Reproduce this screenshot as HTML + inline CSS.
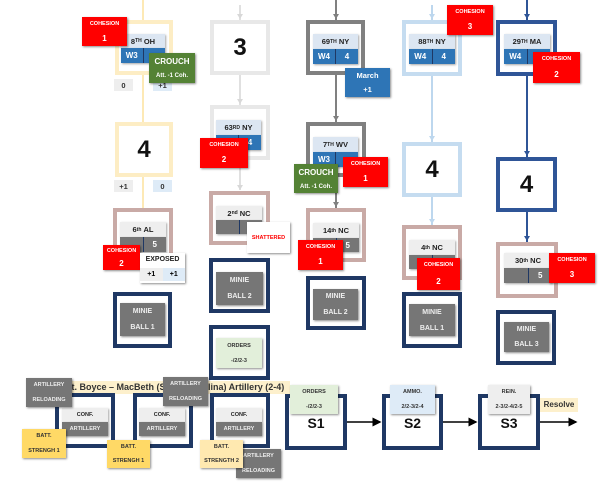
<!DOCTYPE html>
<html><head><meta charset="utf-8"><style>
body{margin:0;width:610px;height:491px;background:#fff;position:relative;overflow:hidden;font-family:"Liberation Sans",sans-serif;font-weight:bold}
div{position:absolute;box-sizing:border-box}
.f{border:4px solid #1f3864;background:#fff}
.ln{background:#999;width:2px}
.c{box-shadow:1px 1px 2px rgba(0,0,0,.45);text-align:center;display:flex;flex-direction:column;justify-content:space-around;align-items:center}
.red{background:#f00;color:#fff;font-size:5.5px}
.red b{font-size:8px}
.grn{background:#548235;color:#fff;font-size:8px}
.grn i{font-style:normal;font-size:6px}
.big{display:flex;align-items:center;justify-content:center;font-size:24px;color:#111}
.hd{font-size:7.5px;color:#222;display:flex;align-items:center;justify-content:center;box-shadow:1px 1px 2px rgba(0,0,0,.35)}
.rw{display:flex;box-shadow:1px 1px 2px rgba(0,0,0,.35)}
.rw span{flex:1;display:flex;align-items:center;justify-content:center;color:#fff;font-size:8px}
.rw span+span{border-left:1px solid #1f3864}
.gy{background:#767676;color:#eee;font-size:7px}
.sm{font-size:7.5px;display:flex;align-items:center;justify-content:center;color:#333}
.s{font-size:14px;color:#111;text-align:center}
</style></head><body>

<!-- column 1 -->
<div class="ln" style="left:142px;top:0;height:208px;background:#fde9b5"></div>
<div class="f" style="left:115px;top:20px;width:58px;height:55px;border-color:#fdedc4"></div>
<div class="hd" style="left:121px;top:34px;width:44px;height:14px;background:#dce6f2">8<sup style="font-size:5px">TH</sup>&nbsp;OH</div>
<div class="rw" style="left:121px;top:48px;width:44px;height:15px;background:#2e75b6"><span>W3</span><span></span></div>
<div class="c red" style="left:82px;top:17px;width:45px;height:29px">COHESION<b>1</b></div>
<div class="sm" style="left:114px;top:79px;width:19px;height:12px;background:#eee">0</div>
<div class="sm" style="left:153px;top:79px;width:19px;height:12px;background:#deebf7">+1</div>
<div class="c grn" style="left:149px;top:53px;width:46px;height:30px">CROUCH<i>Att. -1 Coh.</i></div>
<div class="f big" style="left:115px;top:122px;width:58px;height:55px;border-color:#fdedc4">4</div>
<div class="sm" style="left:114px;top:180px;width:19px;height:12px;background:#eee">+1</div>
<div class="sm" style="left:153px;top:180px;width:19px;height:12px;background:#deebf7">0</div>
<div class="f" style="left:113px;top:208px;width:60px;height:60px;border-color:#c9aaa6"></div>
<div class="hd" style="left:120px;top:222px;width:46px;height:15px;background:#eee">6<sup style="font-size:5px">th</sup>&nbsp;AL</div>
<div class="rw" style="left:120px;top:237px;width:46px;height:15px;background:#767676"><span></span><span>5</span></div>
<div class="c red" style="left:103px;top:245px;width:37px;height:25px">COHESION<b>2</b></div>
<div class="c" style="left:140px;top:253px;width:45px;height:30px;background:#fff"><div style="position:static;font-size:7px;color:#222">EXPOSED</div><div style="position:static;display:flex;width:100%;font-size:7px;height:13px"><span style="flex:1;background:#eee;display:flex;align-items:center;justify-content:center">+1</span><span style="flex:1;background:#deebf7;display:flex;align-items:center;justify-content:center">+1</span></div></div>
<div class="f" style="left:113px;top:292px;width:59px;height:56px"></div>
<div class="c gy" style="left:120px;top:303px;width:45px;height:33px">MINIE<span>BALL 1</span></div>

<!-- column 2 -->
<div class="ln" style="left:239px;top:5px;height:185px;background:#e0e0e0"></div>
<div class="f big" style="left:210px;top:20px;width:60px;height:55px;border-color:#e8e8e8">3</div>
<div class="f" style="left:210px;top:105px;width:60px;height:55px;border-color:#e8e8e8"></div>
<div class="hd" style="left:216px;top:120px;width:45px;height:15px;background:#dce6f2">63<sup style="font-size:5px">RD</sup>&nbsp;NY</div>
<div class="rw" style="left:216px;top:135px;width:45px;height:15px;background:#2e75b6"><span></span><span>4</span></div>
<div class="c red" style="left:200px;top:138px;width:48px;height:30px">COHESION<b>2</b></div>
<div class="f" style="left:209px;top:191px;width:61px;height:54px;border-color:#c9aaa6"></div>
<div class="hd" style="left:216px;top:206px;width:46px;height:14px;background:#eee">2<sup style="font-size:5px">nd</sup>&nbsp;NC</div>
<div class="rw" style="left:216px;top:220px;width:46px;height:14px;background:#767676"><span></span><span></span></div>
<div class="c" style="left:247px;top:222px;width:43px;height:31px;background:#fff;color:#f00;font-size:5.5px;justify-content:center">SHATTERED</div>
<div class="f" style="left:209px;top:258px;width:61px;height:55px"></div>
<div class="c gy" style="left:216px;top:272px;width:47px;height:33px">MINIE<span>BALL 2</span></div>
<div class="f" style="left:209px;top:325px;width:61px;height:55px"></div>
<div class="c" style="left:216px;top:338px;width:46px;height:30px;background:#e2efda;font-size:5.5px;color:#333">ORDERS<span>-/2/2-3</span></div>

<!-- column 3 -->
<div class="ln" style="left:335px;top:0;height:208px;background:#808080"></div>
<div class="f" style="left:306px;top:20px;width:59px;height:55px;border-color:#808080"></div>
<div class="hd" style="left:313px;top:34px;width:45px;height:15px;background:#dce6f2">69<sup style="font-size:5px">TH</sup>&nbsp;NY</div>
<div class="rw" style="left:313px;top:49px;width:45px;height:15px;background:#2e75b6"><span>W4</span><span>4</span></div>
<div class="c" style="left:345px;top:68px;width:45px;height:29px;background:#2e75b6;color:#fff;font-size:7.5px">March<span>+1</span></div>
<div class="f" style="left:306px;top:122px;width:60px;height:55px;border-color:#808080"></div>
<div class="hd" style="left:313px;top:137px;width:45px;height:15px;background:#dce6f2">7<sup style="font-size:5px">TH</sup>&nbsp;WV</div>
<div class="rw" style="left:313px;top:152px;width:45px;height:15px;background:#2e75b6"><span>W3</span><span></span></div>
<div class="c grn" style="left:294px;top:164px;width:44px;height:29px">CROUCH<i>Att. -1 Coh.</i></div>
<div class="c red" style="left:343px;top:157px;width:45px;height:30px">COHESION<b>1</b></div>
<div class="f" style="left:306px;top:208px;width:60px;height:54px;border-color:#c9aaa6"></div>
<div class="hd" style="left:313px;top:223px;width:46px;height:15px;background:#eee">14<sup style="font-size:5px">th</sup>&nbsp;NC</div>
<div class="rw" style="left:313px;top:238px;width:46px;height:14px;background:#767676"><span></span><span>5</span></div>
<div class="c red" style="left:298px;top:240px;width:45px;height:30px">COHESION<b>1</b></div>
<div class="f" style="left:306px;top:276px;width:60px;height:54px"></div>
<div class="c gy" style="left:313px;top:289px;width:45px;height:31px">MINIE<span>BALL 2</span></div>

<!-- column 4 -->
<div class="ln" style="left:431px;top:5px;height:220px;background:#bdd7ee"></div>
<div class="f" style="left:402px;top:20px;width:60px;height:56px;border-color:#c5dcf0"></div>
<div class="hd" style="left:409px;top:34px;width:46px;height:15px;background:#dce6f2">88<sup style="font-size:5px">TH</sup>&nbsp;NY</div>
<div class="rw" style="left:409px;top:49px;width:46px;height:15px;background:#2e75b6"><span>W4</span><span>4</span></div>
<div class="c red" style="left:447px;top:5px;width:46px;height:30px">COHESION<b>3</b></div>
<div class="f big" style="left:402px;top:142px;width:60px;height:55px;border-color:#c5dcf0">4</div>
<div class="f" style="left:402px;top:225px;width:60px;height:55px;border-color:#c9aaa6"></div>
<div class="hd" style="left:409px;top:240px;width:46px;height:15px;background:#eee">4<sup style="font-size:5px">th</sup>&nbsp;NC</div>
<div class="rw" style="left:409px;top:255px;width:46px;height:14px;background:#767676"><span></span><span></span></div>
<div class="c red" style="left:417px;top:258px;width:43px;height:32px">COHESION<b>2</b></div>
<div class="f" style="left:402px;top:292px;width:60px;height:56px"></div>
<div class="c gy" style="left:409px;top:304px;width:46px;height:32px">MINIE<span>BALL 1</span></div>

<!-- column 5 -->
<div class="ln" style="left:526px;top:0;height:242px;background:#2f5597"></div>
<div class="f" style="left:496px;top:20px;width:61px;height:56px;border-color:#2f5597"></div>
<div class="hd" style="left:504px;top:34px;width:46px;height:15px;background:#dce6f2">29<sup style="font-size:5px">TH</sup>&nbsp;MA</div>
<div class="rw" style="left:504px;top:49px;width:46px;height:15px;background:#2e75b6"><span>W4</span><span></span></div>
<div class="c red" style="left:533px;top:52px;width:47px;height:31px">COHESION<b>2</b></div>
<div class="f big" style="left:496px;top:157px;width:61px;height:55px;border-color:#2f5597">4</div>
<div class="f" style="left:496px;top:242px;width:62px;height:56px;border-color:#c9aaa6"></div>
<div class="hd" style="left:504px;top:253px;width:48px;height:15px;background:#eee">30<sup style="font-size:5px">th</sup>&nbsp;NC</div>
<div class="rw" style="left:504px;top:268px;width:48px;height:15px;background:#767676"><span></span><span>5</span></div>
<div class="c red" style="left:549px;top:253px;width:46px;height:30px">COHESION<b>3</b></div>
<div class="f" style="left:496px;top:310px;width:60px;height:55px"></div>
<div class="c gy" style="left:504px;top:322px;width:45px;height:30px">MINIE<span>BALL 3</span></div>

<!-- bottom -->
<div style="left:60px;top:381px;width:230px;height:13px;background:#fdf0cc;font-size:9px;color:#333;white-space:nowrap;overflow:hidden;padding-left:6px;line-height:13px">Lt. Boyce – MacBeth (South Carolina) Artillery (2-4)</div>
<div class="f" style="left:55px;top:393px;width:60px;height:55px"></div>
<div class="f" style="left:133px;top:393px;width:60px;height:55px"></div>
<div class="f" style="left:210px;top:393px;width:60px;height:55px"></div>
<div class="hd" style="left:62px;top:408px;width:46px;height:14px;background:#eee;font-size:5.5px">CONF.</div>
<div class="c gy" style="left:62px;top:422px;width:46px;height:14px;font-size:5.5px">ARTILLERY</div>
<div class="hd" style="left:139px;top:408px;width:46px;height:14px;background:#eee;font-size:5.5px">CONF.</div>
<div class="c gy" style="left:139px;top:422px;width:46px;height:14px;font-size:5.5px">ARTILLERY</div>
<div class="hd" style="left:216px;top:408px;width:46px;height:14px;background:#eee;font-size:5.5px">CONF.</div>
<div class="c gy" style="left:216px;top:422px;width:46px;height:14px;font-size:5.5px">ARTILLERY</div>
<div class="c gy" style="left:26px;top:378px;width:46px;height:29px;font-size:5.5px">ARTILLERY<span>RELOADING</span></div>
<div class="c gy" style="left:163px;top:377px;width:45px;height:29px;font-size:5.5px">ARTILLERY<span>RELOADING</span></div>
<div class="c gy" style="left:236px;top:449px;width:45px;height:29px;font-size:5.5px">ARTILLERY<span>RELOADING</span></div>
<div class="c" style="left:22px;top:429px;width:44px;height:29px;background:#ffd966;font-size:5.5px;color:#333">BATT.<span>STRENGH 1</span></div>
<div class="c" style="left:107px;top:440px;width:43px;height:28px;background:#ffd966;font-size:5.5px;color:#333">BATT.<span>STRENGH 1</span></div>
<div class="c" style="left:200px;top:440px;width:43px;height:28px;background:#ffe9b0;font-size:5.5px;color:#333">BATT.<span>STRENGTH 2</span></div>

<div class="f" style="left:285px;top:394px;width:62px;height:56px"></div>
<div class="f" style="left:382px;top:394px;width:61px;height:56px"></div>
<div class="f" style="left:478px;top:394px;width:62px;height:56px"></div>
<div class="s" style="left:285px;top:415px;width:62px">S1</div>
<div class="s" style="left:382px;top:415px;width:61px">S2</div>
<div class="s" style="left:478px;top:415px;width:62px">S3</div>
<div class="c" style="left:290px;top:385px;width:48px;height:29px;background:#e2efda;font-size:5.5px;color:#333">ORDERS<span>-/2/2-3</span></div>
<div class="c" style="left:390px;top:385px;width:45px;height:29px;background:#deebf7;font-size:5.5px;color:#333">AMMO.<span>2/2-3/2-4</span></div>
<div class="c" style="left:488px;top:385px;width:42px;height:29px;background:#eee;font-size:5.5px;color:#333">REIN.<span>2-3/2-4/2-5</span></div>
<div style="left:540px;top:398px;width:38px;height:14px;background:#fdf0cc;font-size:8px;color:#333;line-height:14px;text-align:center">Resolve</div>

<svg width="610" height="491" style="position:absolute;left:0;top:0">
<defs><marker id="a" markerWidth="6" markerHeight="6" refX="5" refY="3" orient="auto"><path d="M0,0 L6,3 L0,6z" fill="#000"/></marker></defs>
<g stroke="#000" stroke-width="1.5" marker-end="url(#a)">
<line x1="347" y1="422" x2="380" y2="422"/>
<line x1="443" y1="422" x2="476" y2="422"/>
<line x1="540" y1="422" x2="576" y2="422"/>
</g>
<g fill="#d8d8d8"><path d="M237,14 L243,14 L240,19z"/><path d="M237,99 L243,99 L240,104z"/><path d="M237,185 L243,185 L240,190z"/></g>
<g fill="#808080"><path d="M333,14 L339,14 L336,19z"/><path d="M333,116 L339,116 L336,121z"/><path d="M333,202 L339,202 L336,207z"/></g>
<g fill="#bdd7ee"><path d="M429,14 L435,14 L432,19z"/><path d="M429,136 L435,136 L432,141z"/><path d="M429,219 L435,219 L432,224z"/></g>
<g fill="#2f5597"><path d="M524,14 L530,14 L527,19z"/><path d="M524,151 L530,151 L527,156z"/><path d="M524,236 L530,236 L527,241z"/></g>
</svg>
</body></html>
